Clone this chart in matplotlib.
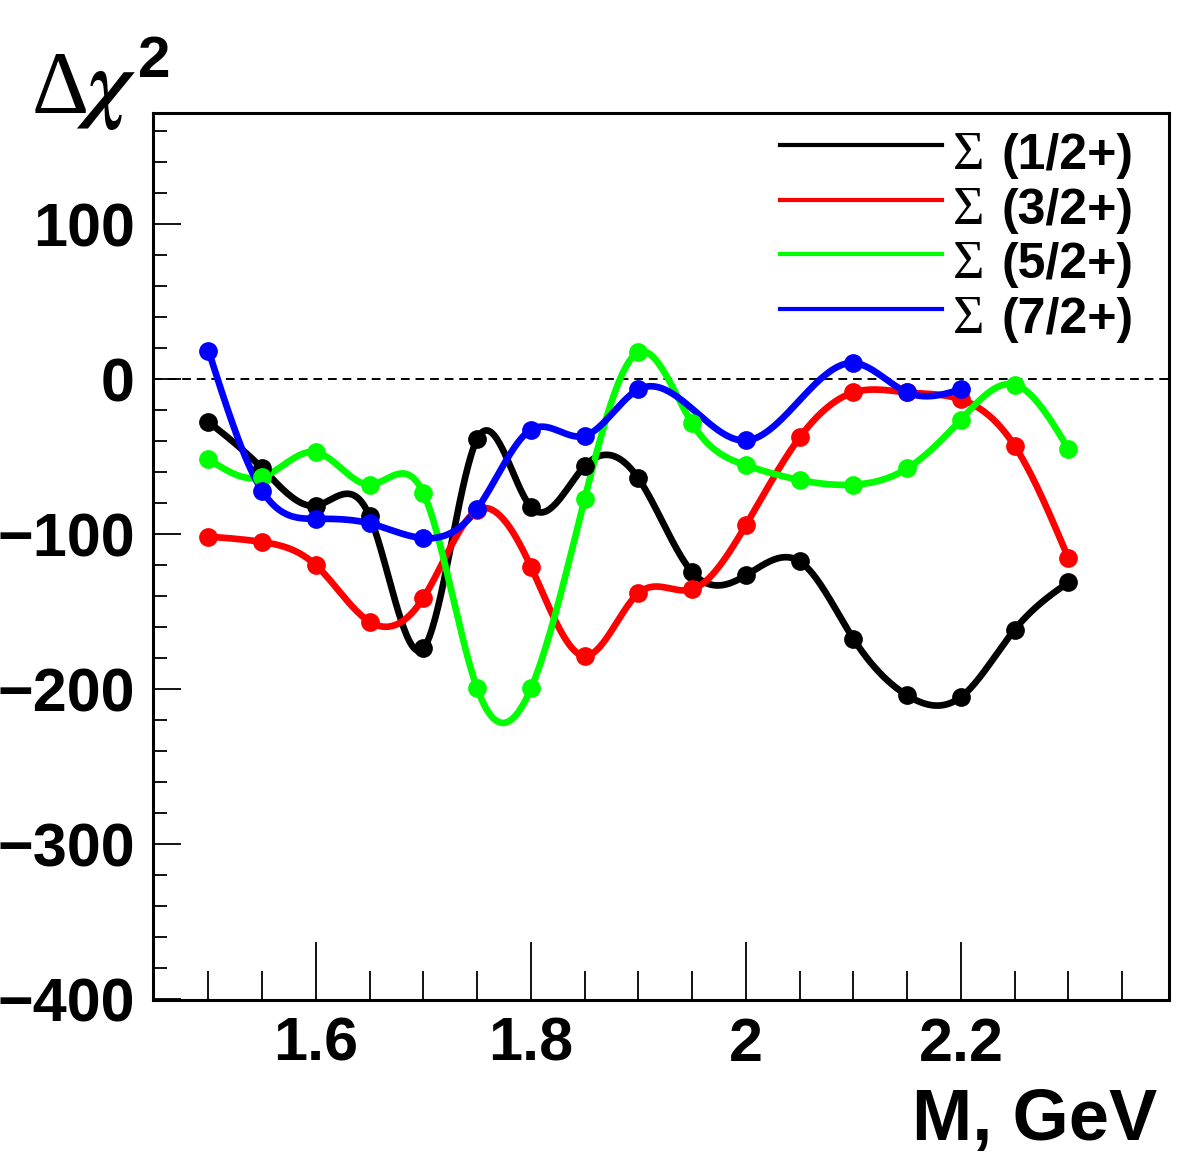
import numpy as np
import matplotlib
matplotlib.use('Agg')
import matplotlib.pyplot as plt
from matplotlib.lines import Line2D

plt.rcParams['font.family'] = ['Liberation Sans', 'DejaVu Sans']
plt.rcParams['font.weight'] = 'bold'
plt.rcParams['mathtext.fontset'] = 'stix'

# mass points (GeV)
mass = [1.50, 1.55, 1.60, 1.65, 1.70, 1.75, 1.80, 1.85, 1.90,
        1.95, 2.00, 2.05, 2.10, 2.15, 2.20, 2.25, 2.30]
mass_72 = [1.50, 1.55, 1.60, 1.65, 1.70, 1.75, 1.80, 1.85, 1.90,
           2.00, 2.10, 2.15, 2.20]

# delta chi^2 per hypothesis
dchi_12 = [-27.5, -57.5, -81.5, -88.5, -173.5, -38.5, -82.5, -56, -64,
           -124.5, -126.5, -117.5, -167.5, -204, -205, -161.5, -131]
dchi_32 = [-101.5, -105, -120, -156.5, -141, -84.5, -121, -178.5, -138,
           -135.5, -94, -37.5, -8.5, -8.5, -13, -43, -115.5]
dchi_52 = [-51.5, -63, -47, -68, -73.5, -199.5, -199.5, -77, 17.5,
           -28.5, -55.5, -65, -68, -57.5, -26, -3.5, -45]
dchi_72 = [18.5, -72, -90, -93, -102.5, -83.5, -32.5, -36.5, -6.5,
           -39.5, 10.5, -8.5, -6.5]

labels = ['(1/2+)', '(3/2+)', '(5/2+)', '(7/2+)']
colors = ['#000000', '#ff0000', '#00ff00', '#0000ff']


def natural_spline(x, y, n=600):
    """Smooth curve through the points (natural cubic spline)."""
    x = np.asarray(x, float)
    y = np.asarray(y, float)
    k = len(x)
    h = np.diff(x)
    A = np.zeros((k, k))
    b = np.zeros(k)
    A[0, 0] = A[-1, -1] = 1.0
    for i in range(1, k - 1):
        A[i, i - 1] = h[i - 1]
        A[i, i] = 2 * (h[i - 1] + h[i])
        A[i, i + 1] = h[i]
        b[i] = 6 * ((y[i + 1] - y[i]) / h[i] - (y[i] - y[i - 1]) / h[i - 1])
    M = np.linalg.solve(A, b)
    xs = np.linspace(x[0], x[-1], n)
    j = np.clip(np.searchsorted(x, xs) - 1, 0, k - 2)
    t0 = x[j + 1] - xs
    t1 = xs - x[j]
    hj = h[j]
    ys = (M[j] * t0 ** 3 + M[j + 1] * t1 ** 3) / (6 * hj) \
        + (y[j] / hj - M[j] * hj / 6) * t0 + (y[j + 1] / hj - M[j + 1] * hj / 6) * t1
    return xs, ys


W, H = 1182, 1153
fig = plt.figure(figsize=(W / 100, H / 100), dpi=100)
ax_l, ax_r, ax_t, ax_b = 153, 1169, 113, 1000
ax = fig.add_axes([ax_l / W, 1 - ax_b / H, (ax_r - ax_l) / W, (ax_b - ax_t) / H])

series = [(mass, dchi_12), (mass, dchi_32), (mass, dchi_52), (mass_72, dchi_72)]
for (xv, yv), c in zip(series, colors):
    xs, ys = natural_spline(xv, yv)
    ax.plot(xs, ys, color=c, lw=4.8, solid_capstyle='round', zorder=3)
    ax.plot(xv, yv, 'o', color=c, ms=13.5, mec='none', zorder=4)

ax.axhline(0, color='black', lw=1.4, dashes=(4.5, 3), zorder=2)

ax.set_xlim(1.4484, 2.3935)
ax.set_ylim(-400.5, 171.8)

ax.set_xticks([1.6, 1.8, 2.0, 2.2])
ax.set_xticklabels(['1.6', '1.8', '2', '2.2'])
ax.set_xticks(np.arange(1.5, 2.36, 0.05), minor=True)
ax.set_yticks([-400, -300, -200, -100, 0, 100])
ax.set_yticklabels(['\u2212400', '\u2212300', '\u2212200', '\u2212100', '0', '100'])
ax.set_yticks(np.arange(-400, 171, 20), minor=True)

ax.tick_params(axis='both', which='both', direction='in', width=1.3, colors='black')
ax.tick_params(axis='y', which='major', length=20, pad=13, labelsize=44)
ax.tick_params(axis='y', which='minor', length=10)
ax.tick_params(axis='x', which='major', length=42, pad=12, labelsize=44)
ax.tick_params(axis='x', which='minor', length=21)
for s in ax.spines.values():
    s.set_linewidth(2.2)

# legend drawn by hand, ROOT style
rows_px = [145, 200, 254, 309]
for lab, c, ry in zip(labels, colors, rows_px):
    yy = (ax_b - ry) / (ax_b - ax_t)
    ax.add_line(Line2D([(780 - ax_l) / (ax_r - ax_l), (942 - ax_l) / (ax_r - ax_l)], [yy, yy],
                       transform=ax.transAxes, color=c, lw=3.0, clip_on=False))
    by = 1 - (ry + 24) / H
    fig.text(953 / W, by, '\u03a3', fontsize=39, fontweight='normal', family='Liberation Serif',
             va='baseline', ha='left')
    fig.text(1002 / W, by, lab, fontsize=36, fontweight='bold', va='baseline', ha='left')

# axis titles
fig.text(31 / W, 1 - 112 / H, '\u0394$\\chi$', fontsize=64, fontweight='normal',
         family='Liberation Serif', va='baseline', ha='left')
fig.text(138 / W, 1 - 77 / H, '2', fontsize=42, fontweight='bold', va='baseline', ha='left')
fig.text(1157 / W, 1 - 1140 / H, 'M, GeV', fontsize=52, fontweight='bold', va='baseline', ha='right')

fig.savefig('out.png', dpi=100)
